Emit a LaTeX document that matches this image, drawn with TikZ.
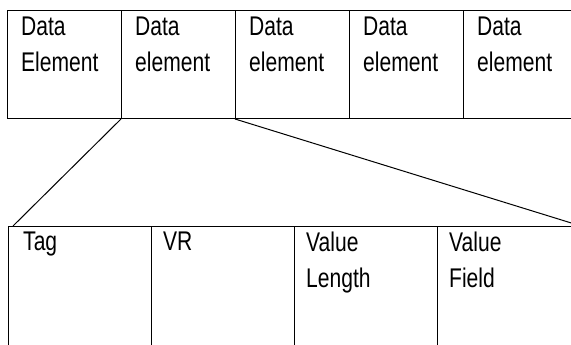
\documentclass[tikz,border=0pt]{standalone}
\usepackage{fontspec}
\newfontfamily\narrowfont{Liberation Sans}[FakeStretch=0.78]
\tikzset{
    topcell/.style={draw, line width=1pt, anchor=north west, inner sep=0pt, minimum width=114pt, minimum height=108pt},
    fieldcell/.style={draw, line width=1pt, anchor=north west, inner sep=0pt, minimum width=143pt, minimum height=130pt},
    celltext/.style={anchor=north west, inner sep=0pt, align=left, font=\narrowfont\fontsize{27}{36}\selectfont},
}
\begin{document}
\begin{tikzpicture}[x=1pt, y=-1pt]
                \clip (0, 0) rectangle (571, 345);

                % sequence of data elements
                \node[topcell] (elem1) at (7, 10) {};
                \node[topcell] (elem2) at (121, 10) {};
                \node[topcell] (elem3) at (235, 10) {};
                \node[topcell] (elem4) at (349, 10) {};
                \node[topcell] (elem5) at (463, 10) {};

                \node[celltext] (elemtext1) at ([xshift=14pt, yshift=-7pt]elem1.north west) {Data\\Element};
                \node[celltext] (elemtext2) at ([xshift=14pt, yshift=-7pt]elem2.north west) {Data\\element};
                \node[celltext] (elemtext3) at ([xshift=14pt, yshift=-7pt]elem3.north west) {Data\\element};
                \node[celltext] (elemtext4) at ([xshift=14pt, yshift=-7pt]elem4.north west) {Data\\element};
                \node[celltext] (elemtext5) at ([xshift=14pt, yshift=-7pt]elem5.north west) {Data\\element};

                % fields of one element
                \node[fieldcell] (tag) at (8, 226) {};
                \node[fieldcell] (vr) at (151, 226) {};
                \node[fieldcell] (vlen) at (294, 226) {};
                \node[fieldcell] (vfield) at (437, 226) {};

                \node[celltext] (tagtext) at ([xshift=15pt, yshift=-6pt]tag.north west) {Tag};
                \node[celltext] (vrtext) at ([xshift=12pt, yshift=-6pt]vr.north west) {VR};
                \node[celltext] (vlentext) at ([xshift=12pt, yshift=-6pt]vlen.north west) {Value\\Length};
                \node[celltext] (vfieldtext) at ([xshift=12pt, yshift=-6pt]vfield.north west) {Value\\Field};

                \draw[line width=1pt] (elem2.south west) -- ([xshift=5pt]tag.north west);
                \draw[line width=1pt] (elem3.south west) -- (vfield.north east);
\end{tikzpicture}
\end{document}
